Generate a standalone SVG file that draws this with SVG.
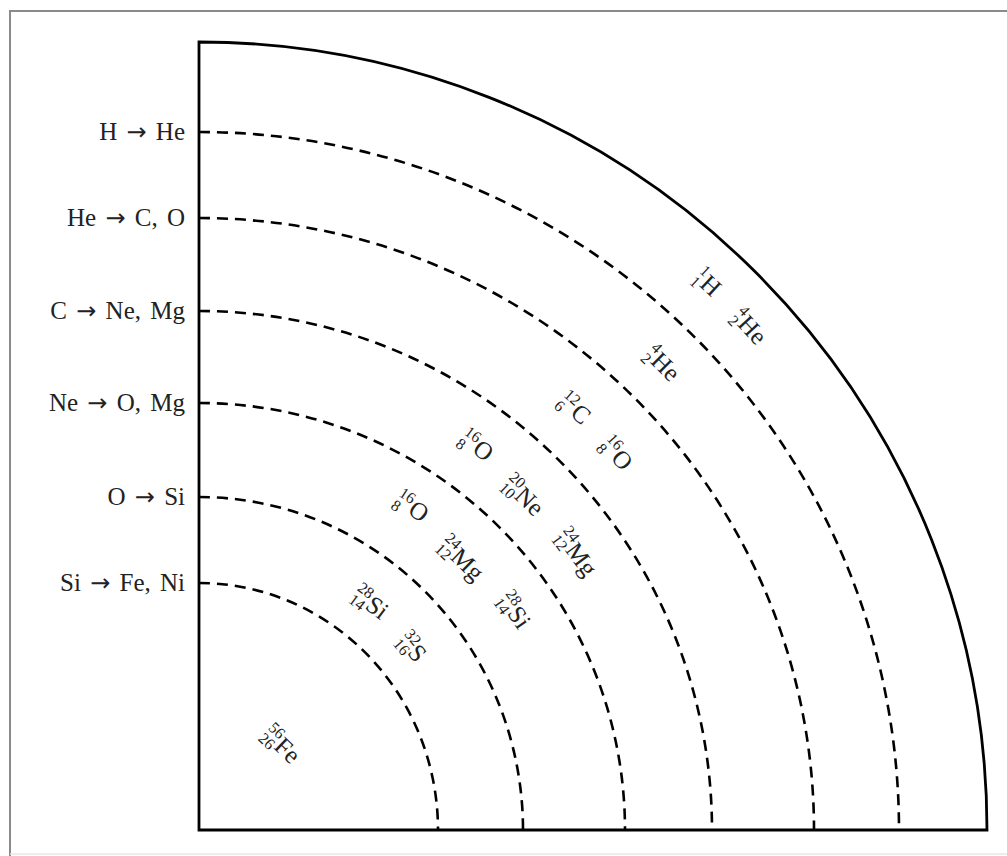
<svg xmlns="http://www.w3.org/2000/svg" width="1007" height="856" viewBox="0 0 1007 856">
<style>
.frame{fill:none;stroke:#8a8a8a;stroke-width:2}
.axis{fill:none;stroke:#000;stroke-width:2.8;stroke-linejoin:miter}
.shell{fill:none;stroke:#000;stroke-width:2.6;stroke-dasharray:11 7}
.lbl{font-family:"Liberation Serif",serif;font-size:25px;fill:#222;text-anchor:end;word-spacing:3px}
.arr{font-family:"DejaVu Sans",sans-serif;font-size:24px}
.sym{font-family:"Liberation Serif",serif;font-size:25px;fill:#222}
.scr{font-family:"Liberation Serif",serif;font-size:16px;fill:#222}
</style>
<rect width="1007" height="856" fill="#fff"/>
<path class="frame" d="M10,856 L10,11 L1007,11"/>
<path d="M10,854 L1007,854" stroke="#e6e6e6" stroke-width="1.5" fill="none"/>

<g id="star">
<path class="axis" d="M199,42 A788,788 0 0 1 987,830 L199,830 Z"/>
</g>

<g id="connectors">
<path class="shell" d="M199,132 A700,698 0 0 1 899,830"/>
<path class="shell" d="M199,218 A615,612 0 0 1 814,830"/>
<path class="shell" d="M199,311 A513,519 0 0 1 712,830"/>
<path class="shell" d="M199,403 A426,427 0 0 1 625,830"/>
<path class="shell" d="M199,497 A324,333 0 0 1 523,830"/>
<path class="shell" d="M199,583 A239,247 0 0 1 438,830"/>
</g>

<g id="shell-labels">
<text id="l-h" class="lbl" x="185" y="140">H <tspan class="arr">→</tspan> He</text>
<text id="l-he" class="lbl" x="185" y="226">He <tspan class="arr">→</tspan> C, O</text>
<text id="l-c" class="lbl" x="185" y="319">C <tspan class="arr">→</tspan> Ne, Mg</text>
<text id="l-ne" class="lbl" x="185" y="411">Ne <tspan class="arr">→</tspan> O, Mg</text>
<text id="l-o" class="lbl" x="185" y="505">O <tspan class="arr">→</tspan> Si</text>
<text id="l-si" class="lbl" x="185" y="591">Si <tspan class="arr">→</tspan> Fe, Ni</text>
</g>

<g id="iso-H1" transform="translate(708,282) rotate(42.9)">
<text class="scr" x="-13.5" y="-1">1</text><text class="scr" x="-13.5" y="14">1</text><text class="sym" x="-4.5" y="9">H</text></g>
<g id="iso-He4-outer" transform="translate(750,326) rotate(47.5)">
<text class="scr" x="-19.1" y="-1">4</text><text class="scr" x="-19.1" y="14">2</text><text class="sym" x="-10.1" y="9">He</text></g>
<g id="iso-He4-inner" transform="translate(663,363) rotate(44.8)">
<text class="scr" x="-19.1" y="-1">4</text><text class="scr" x="-19.1" y="14">2</text><text class="sym" x="-10.1" y="9">He</text></g>
<g id="iso-C12" transform="translate(575,408) rotate(41.7)">
<text class="scr" x="-16.9" y="-1">12</text><text class="scr" x="-16.9" y="14">6</text><text class="sym" x="0.2" y="9">C</text></g>
<g id="iso-O16-a" transform="translate(617,453) rotate(48)">
<text class="scr" x="-17.5" y="-1">16</text><text class="scr" x="-17.5" y="14">8</text><text class="sym" x="-0.5" y="9">O</text></g>
<g id="iso-O16-b" transform="translate(477,445) rotate(35.8)">
<text class="scr" x="-17.5" y="-1">16</text><text class="scr" x="-17.5" y="14">8</text><text class="sym" x="-0.5" y="9">O</text></g>
<g id="iso-Ne20" transform="translate(524,495) rotate(44.1)">
<text class="scr" x="-23.1" y="-1">20</text><text class="scr" x="-23.1" y="14">10</text><text class="sym" x="-6.1" y="9">Ne</text></g>
<g id="iso-Mg24-a" transform="translate(577,552) rotate(53.7)">
<text class="scr" x="-25.9" y="-1">24</text><text class="scr" x="-25.9" y="14">12</text><text class="sym" x="-8.9" y="9">Mg</text></g>
<g id="iso-O16-c" transform="translate(412,506) rotate(33.3)">
<text class="scr" x="-17.5" y="-1">16</text><text class="scr" x="-17.5" y="14">8</text><text class="sym" x="-0.5" y="9">O</text></g>
<g id="iso-Mg24-b" transform="translate(462,558) rotate(44)">
<text class="scr" x="-25.9" y="-1">24</text><text class="scr" x="-25.9" y="14">12</text><text class="sym" x="-8.9" y="9">Mg</text></g>
<g id="iso-Si28-a" transform="translate(515,610) rotate(55.2)">
<text class="scr" x="-19" y="-1">28</text><text class="scr" x="-19" y="14">14</text><text class="sym" x="-2" y="9">Si</text></g>
<g id="iso-Si28-b" transform="translate(371,602) rotate(37)">
<text class="scr" x="-19" y="-1">28</text><text class="scr" x="-19" y="14">14</text><text class="sym" x="-2" y="9">Si</text></g>
<g id="iso-S32" transform="translate(413,647) rotate(49.5)">
<text class="scr" x="-15.5" y="-1">32</text><text class="scr" x="-15.5" y="14">16</text><text class="sym" x="0.5" y="9">S</text></g>
<g id="iso-Fe56" transform="translate(282,744) rotate(44)">
<text class="scr" x="-21" y="-1">56</text><text class="scr" x="-21" y="14">26</text><text class="sym" x="-4" y="9">Fe</text></g>
</svg>
